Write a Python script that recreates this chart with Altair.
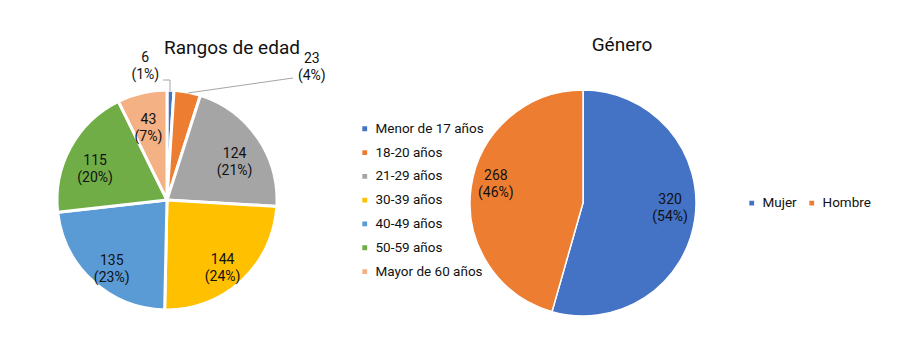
import altair as alt
import pandas as pd

# ---- data ----
age_cats = ["Menor de 17 años", "18-20 años", "21-29 años", "30-39 años",
            "40-49 años", "50-59 años", "Mayor de 60 años"]
age_vals = [6, 23, 124, 144, 135, 115, 43]
age_pcts = [1, 4, 21, 24, 23, 20, 7]
age_colors = ["#4472C4", "#ED7D31", "#A5A5A5", "#FFC000", "#5B9BD5", "#70AD47", "#F4B183"]

gen_cats = ["Mujer", "Hombre"]
gen_vals = [320, 268]
gen_pcts = [54, 46]
gen_colors = ["#4472C4", "#ED7D31"]

FONT = "Roboto"
TXT = "#111111"

age_df = pd.DataFrame({
    "cat": age_cats, "val": age_vals, "idx": list(range(len(age_cats))),
    "label": [f"{v}\n({p}%)" for v, p in zip(age_vals, age_pcts)],
})
gen_df = pd.DataFrame({
    "cat": gen_cats, "val": gen_vals, "idx": list(range(len(gen_cats))),
    "label": [f"{v}\n({p}%)" for v, p in zip(gen_vals, gen_pcts)],
})

LCX, LCY = 159, 192
RCX, RCY = 575, 195

age_base = alt.Chart(age_df).encode(
    theta=alt.Theta("val:Q", stack=True),
    order=alt.Order("idx:Q"),
    x=alt.value(LCX), y=alt.value(LCY),
)
age_arc = age_base.mark_arc(outerRadius=110, stroke="white", strokeWidth=3).encode(
    color=alt.Color("cat:N", scale=alt.Scale(domain=age_cats, range=age_colors),
                    legend=alt.Legend(title=None, orient="none", legendX=350, legendY=114,
                                      symbolType="square", symbolSize=40, labelFont=FONT,
                                      labelFontSize=13.5, labelColor=TXT, rowPadding=8.8,
                                      labelOffset=4))
)
txt_kw = dict(font=FONT, fontSize=14, color=TXT, lineBreak="\n", lineHeight=17,
              baseline="middle")
age_inner = age_base.transform_calculate(
    t="datum.val > 30 ? datum.label : ''"
).mark_text(radius=82, **txt_kw).encode(text="t:N")
age_out1 = age_base.transform_calculate(
    t=f"datum.cat == '{age_cats[0]}' ? datum.label : ''"
).mark_text(radius=134, dx=-26, dy=-8, **txt_kw).encode(text="t:N")
age_out2 = age_base.transform_calculate(
    t=f"datum.cat == '{age_cats[1]}' ? datum.label : ''"
).mark_text(radius=134, dx=120, dy=-9, **txt_kw).encode(text="t:N")

gen_base = alt.Chart(gen_df).encode(
    theta=alt.Theta("val:Q", stack=True),
    order=alt.Order("idx:Q"),
    x=alt.value(RCX), y=alt.value(RCY),
)
gen_arc = gen_base.mark_arc(outerRadius=113, stroke="white", strokeWidth=1.5).encode(
    color=alt.Color("cat:N", scale=alt.Scale(domain=gen_cats, range=gen_colors),
                    legend=alt.Legend(title=None, orient="none", legendX=737, legendY=188,
                                      direction="horizontal", symbolType="square",
                                      symbolSize=40, labelFont=FONT, labelFontSize=13.5,
                                      labelColor=TXT, columnPadding=8, labelOffset=4))
)
gen_text = gen_base.mark_text(radius=88, dy=-15, **txt_kw).encode(text="label:N")

one = alt.Data(values=[{"a": 1}])
title_l = alt.Chart(one).mark_text(font=FONT, fontSize=19, color=TXT).encode(
    x=alt.value(224), y=alt.value(40), text=alt.value("Rangos de edad"))
title_r = alt.Chart(one).mark_text(font=FONT, fontSize=19, color=TXT).encode(
    x=alt.value(614), y=alt.value(37), text=alt.value("Género"))

lead1a = alt.Chart(one).mark_rule(color="#A6A6A6", strokeWidth=1).encode(
    x=alt.value(155), x2=alt.value(162), y=alt.value(72), y2=alt.value(72))
lead1b = alt.Chart(one).mark_rule(color="#A6A6A6", strokeWidth=1).encode(
    x=alt.value(162), x2=alt.value(162), y=alt.value(72), y2=alt.value(83))
lead2 = alt.Chart(one).mark_rule(color="#A6A6A6", strokeWidth=1).encode(
    x=alt.value(285), x2=alt.value(180), y=alt.value(70), y2=alt.value(85))

chart = alt.layer(
    age_arc, age_inner, age_out1, age_out2,
    gen_arc, gen_text,
    title_l, title_r, lead1a, lead1b, lead2,
).resolve_scale(theta="independent", color="independent").properties(
    width=881, height=342, padding=0, autosize=alt.AutoSizeParams(type="none")
).configure_view(stroke=None)

chart.save("out.html", embed_options={"renderer": "svg", "actions": False})
